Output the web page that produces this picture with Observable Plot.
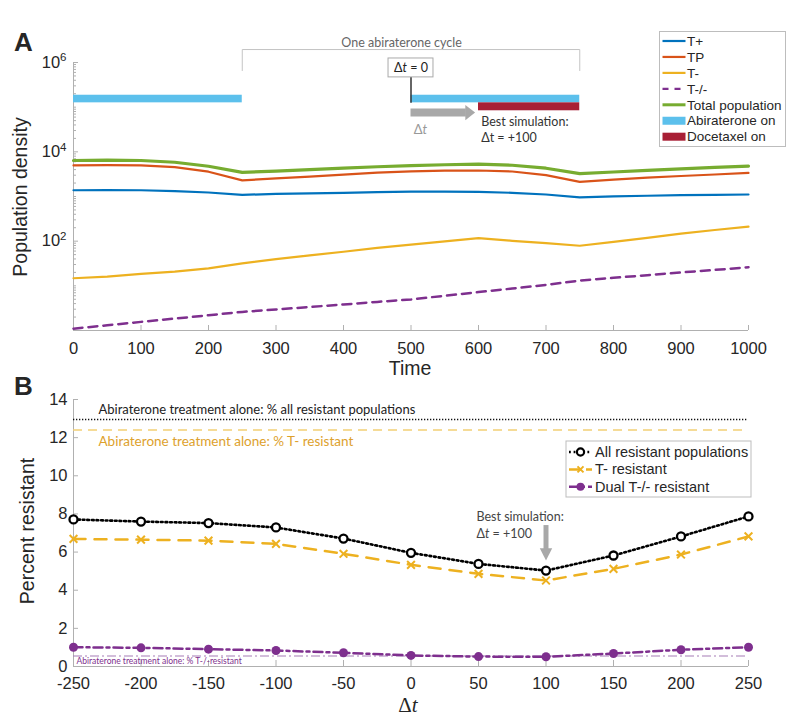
<!DOCTYPE html>
<html>
<head>
<meta charset="utf-8">
<script src="https://cdn.jsdelivr.net/npm/d3@7"></script>
<script src="https://cdn.jsdelivr.net/npm/@observablehq/plot@0.6"></script>
<style>
  body { margin: 0; background: #fff; }
  #wrap { position: relative; width: 800px; height: 723px; overflow: hidden; background: #fff; }
  #wrap > svg { position: absolute; left: 0; }
  #overlay { top: 0; pointer-events: none; }
</style>
</head>
<body>
<div id="wrap"></div>
<script>
// ---------------- Panel A data ----------------
const time = [0, 50, 100, 150, 200, 250, 300, 350, 400, 450, 500, 550, 600, 650, 700, 750, 800, 850, 900, 950, 1000];
const tPlus = [1380, 1390, 1380, 1320, 1230, 1090, 1140, 1180, 1210, 1250, 1280, 1290, 1270, 1210, 1110, 960, 1010, 1040, 1070, 1090, 1110];
const tP = [4970, 5060, 4970, 4530, 3590, 2300, 2540, 2800, 3100, 3430, 3650, 3780, 3820, 3630, 3010, 2120, 2390, 2640, 2880, 3110, 3370];
const tMinus = [14.8, 16.1, 18.5, 20.8, 24.7, 31.9, 39.5, 48, 58, 71, 84, 99, 117, 102, 90, 79, 96, 118, 148, 178, 212];
const tDual = [1.1, 1.31, 1.56, 1.85, 2.19, 2.61, 2.96, 3.36, 3.82, 4.37, 4.96, 6.0, 7.24, 8.7, 10.5, 13.1, 15.1, 17.3, 19.9, 22.7, 26.1];
const totalPop = [6400, 6550, 6400, 5850, 4760, 3470, 3690, 3980, 4300, 4640, 4890, 5140, 5330, 5010, 4300, 3250, 3540, 3840, 4150, 4480, 4810];
const abirateroneOn = [[0, 250], [500, 750]];
const docetaxelOn = [[600, 750]];
const xTicksA = [0, 100, 200, 300, 400, 500, 600, 700, 800, 900, 1000];
const yTicksA = [1e2, 1e4, 1e6];
const yTickLabelsA = ["10^2", "10^4", "10^6"];
const legendA = ["T+", "TP", "T-", "T-/-", "Total population", "Abiraterone on", "Docetaxel on"];

// ---------------- Panel B data ----------------
const deltaT = [-250, -200, -150, -100, -50, 0, 50, 100, 150, 200, 250];
const allResistant = [7.71, 7.6, 7.52, 7.29, 6.71, 5.96, 5.38, 5.03, 5.82, 6.82, 7.87];
const tMinusResistant = [6.69, 6.65, 6.6, 6.43, 5.91, 5.33, 4.86, 4.51, 5.12, 5.87, 6.82];
const dualResistant = [1.01, 0.98, 0.91, 0.84, 0.72, 0.58, 0.52, 0.51, 0.68, 0.88, 1.01];
const aloneLevels = [12.95, 12.4, 0.55];
const aloneLabels = ["Abiraterone treatment alone: % all resistant populations", "Abiraterone treatment alone: % T- resistant", "Abiraterone treatment alone: % T-/-resistant"];
const yTicksB = [0, 2, 4, 6, 8, 10, 12, 14];
const legendB = ["All resistant populations", "T- resistant", "Dual T-/- resistant"];

// ---------------- styles ----------------
const C = {blue: "#0072BD", orange: "#D95319", yellow: "#EDB120", purple: "#7E2F8E", green: "#77AC30",
           cyan: "#5CC0EC", red: "#A81F35", axis: "#b0b0b0", text: "#262626", arrow: "#a8a8a8"};
const SANS = "Liberation Sans, Arial, Helvetica, sans-serif";
const CAL = "Lato, 'Open Sans', sans-serif";

const rows = (xs, vs) => xs.map((x, i) => ({x, v: vs[i]}));

function italicT(svg, strings) {
  d3.select(svg).selectAll("text").each(function () {
    const s = this.textContent;
    if (strings.includes(s)) {
      const rest = s.slice(2);
      const sel = d3.select(this);
      sel.text(null);
      sel.append("tspan").text("Δ");
      sel.append("tspan").attr("font-style", "italic").text("t");
      if (rest) sel.append("tspan").text(rest);
    }
  });
}

// ---------------- Panel A ----------------
const plotA = Plot.plot({
  width: 800, height: 360,
  marginLeft: 73, marginRight: 52, marginTop: 62, marginBottom: 30,
  x: {domain: [0, 1000]},
  y: {type: "log", domain: [1, 1e6]},
  style: {fontFamily: SANS, fontSize: "16.5px", color: C.text, background: "transparent", overflow: "visible"},
  marks: [
    Plot.ruleY([1], {stroke: C.axis}),
    Plot.ruleX([0], {stroke: C.axis}),
    Plot.axisX({ticks: xTicksA, tickSize: -5, tickPadding: 17, stroke: C.axis, fill: C.text, label: null, tickFormat: d => String(d)}),
    Plot.axisY({ticks: [1, ...yTicksA], tickSize: -5, tickPadding: 12, stroke: C.axis, fill: C.text, label: null,
                tickFormat: d => { const i = yTicksA.indexOf(d); return i < 0 ? "" : yTickLabelsA[i]; }}),
    Plot.axisY({ticks: d3.range(0, 6).flatMap(k => d3.range(2, 11).map(m => m * 10 ** k)).filter(v => !yTicksA.includes(v) && v <= 1e6),
                tickSize: -3, stroke: C.axis, label: null, tickFormat: () => ""}),
    // treatment bars
    Plot.rect(abirateroneOn, {x1: d => d[0], x2: d => d[1], y1: 1.25e5, y2: 1.85e5, fill: C.cyan}),
    Plot.rect(docetaxelOn, {x1: d => d[0], x2: d => d[1], y1: 8.3e4, y2: 1.25e5, fill: C.red}),
    // bracket: one abiraterone cycle
    Plot.line([[250, 6.6e5], [250, 1.95e6], [750, 1.95e6], [750, 6.6e5]], {x: d => d[0], y: d => d[1], stroke: "#c4c4c4", strokeWidth: 1}),
    Plot.text(["One abiraterone cycle"], {x: 486, y: 2.69e6, text: d => d, fontFamily: CAL, fontSize: 12.5, fill: "#666"}),
    // Δt = 0 box and marker line
    Plot.ruleX([500], {y1: 1.23e5, y2: 4.64e5, stroke: "#333", strokeWidth: 1.5}),
    Plot.rect([0], {x1: 466.7, x2: 533.3, y1: 4.64e5, y2: 1.23e6, fill: "white", stroke: "#aaa"}),
    Plot.text(["Δt = 0"], {x: 500, y: 7.55e5, text: d => d, fontFamily: CAL, fontSize: 12.5, fill: "#222"}),
    // gray Δt arrow
    Plot.ruleY([7.55e4], {x1: 500, x2: 582, stroke: C.arrow, strokeWidth: 8}),
    Plot.line([[580.5, 1.12e5], [595, 7.55e4], [580.5, 5.1e4]], {x: d => d[0], y: d => d[1], fill: C.arrow, stroke: "none"}),
    Plot.text(["Δt"], {x: 514, y: 3.08e4, text: d => d, fontFamily: CAL, fontSize: 13, fill: "#999"}),
    Plot.text(["Best simulation:", "Δt = +100"], {x: 604, y: (d, i) => [4.76e4, 2.0e4][i], text: d => d, textAnchor: "start", fontFamily: CAL, fontSize: 12.5, fill: "#333"}),
    // population lines
    Plot.line(rows(time, tDual), {x: "x", y: "v", stroke: C.purple, strokeWidth: 2.5, strokeDasharray: "9,6"}),
    Plot.line(rows(time, tMinus), {x: "x", y: "v", stroke: C.yellow, strokeWidth: 2.2}),
    Plot.line(rows(time, tPlus), {x: "x", y: "v", stroke: C.blue, strokeWidth: 2.2}),
    Plot.line(rows(time, tP), {x: "x", y: "v", stroke: C.orange, strokeWidth: 2.2}),
    Plot.line(rows(time, totalPop), {x: "x", y: "v", stroke: C.green, strokeWidth: 3.2})
  ]
});
italicT(plotA, ["Δt = 0", "Δt"]);
// superscript exponents on log tick labels
d3.select(plotA).selectAll("text").each(function () {
  const m = /^10\^(\d)$/.exec(this.textContent);
  if (m) {
    const sel = d3.select(this);
    sel.text(null);
    sel.append("tspan").text("10");
    sel.append("tspan").attr("dy", "-0.55em").attr("font-size", "11.5px").text(m[1]);
  }
});

// ---------------- Panel B ----------------
const plotB = Plot.plot({
  width: 800, height: 320,
  marginLeft: 73, marginRight: 52, marginTop: 19, marginBottom: 34,
  x: {domain: [-250, 250]},
  y: {domain: [0, 14]},
  style: {fontFamily: SANS, fontSize: "16.5px", color: C.text, background: "transparent", overflow: "visible"},
  marks: [
    Plot.ruleY([0], {stroke: C.axis}),
    Plot.ruleX([-250], {stroke: C.axis}),
    Plot.axisX({ticks: deltaT, tickSize: -6, tickPadding: 17, stroke: C.axis, fill: C.text, label: null, tickFormat: d => String(d)}),
    Plot.axisY({ticks: yTicksB, tickSize: -5, tickPadding: 11, stroke: C.axis, fill: C.text, label: null, tickFormat: d => String(d)}),
    // abiraterone-alone reference lines
    Plot.ruleY([aloneLevels[0]], {stroke: "#111", strokeWidth: 1.6, strokeDasharray: "1.3,1.7"}),
    Plot.ruleY([aloneLevels[1]], {stroke: "#F2CF75", strokeWidth: 1.6, strokeDasharray: "9,6"}),
    Plot.ruleY([aloneLevels[2]], {stroke: "#A67DB5", strokeWidth: 1.1, strokeDasharray: "9,3,2,3"}),
    Plot.text([aloneLabels[0]], {x: -231.5, y: 13.48, text: d => d, textAnchor: "start", fontFamily: CAL, fontSize: 13, fill: "#222"}),
    Plot.text([aloneLabels[1]], {x: -231.5, y: 11.81, text: d => d, textAnchor: "start", fontFamily: CAL, fontSize: 13.5, fill: "#DDA12C"}),
    Plot.text([aloneLabels[2]], {x: -247.8, y: 0.3, text: d => d, textAnchor: "start", fontFamily: CAL, fontSize: 8.5, fill: C.purple}),
    // best simulation annotation
    Plot.text(["Best simulation:", "Δt = +100"], {x: 48.5, y: (d, i) => [7.83, 6.97][i], text: d => d, textAnchor: "start", fontFamily: CAL, fontSize: 12.5, fill: "#444"}),
    Plot.ruleX([100], {y1: 6.1, y2: 7.39, stroke: C.arrow, strokeWidth: 5}),
    Plot.line([[95.4, 6.2], [100, 5.56], [104.6, 6.2]], {x: d => d[0], y: d => d[1], fill: C.arrow, stroke: "none"}),
    // series
    Plot.line(rows(deltaT, dualResistant), {x: "x", y: "v", stroke: C.purple, strokeWidth: 2.5, strokeDasharray: "9,4,3,4"}),
    Plot.dot(rows(deltaT, dualResistant), {x: "x", y: "v", fill: C.purple, r: 4.5}),
    Plot.line(rows(deltaT, tMinusResistant), {x: "x", y: "v", stroke: C.yellow, strokeWidth: 2.5, strokeDasharray: "12,9"}),
    Plot.dot(rows(deltaT, tMinusResistant), {x: "x", y: "v", symbol: "times", stroke: C.yellow, strokeWidth: 2, r: 3.6}),
    Plot.line(rows(deltaT, allResistant), {x: "x", y: "v", stroke: "#000", strokeWidth: 2.6, strokeDasharray: "1.8,2.8"}),
    Plot.dot(rows(deltaT, allResistant), {x: "x", y: "v", stroke: "#000", fill: "white", strokeWidth: 2.3, r: 4})
  ]
});
italicT(plotB, ["Δt = +100"]);

const wrap = document.getElementById("wrap");
plotA.style.top = "0px";
plotB.style.top = "380px";
wrap.appendChild(plotA);
wrap.appendChild(plotB);

// ---------------- overlay: panel letters, axis titles, legends ----------------
const ov = d3.select(wrap).append("svg").attr("id", "overlay").attr("width", 800).attr("height", 723)
  .style("font-family", SANS).style("fill", C.text);

ov.append("text").attr("x", 14).attr("y", 51).attr("font-size", 26).attr("font-weight", "bold").text("A");
ov.append("text").attr("x", 14).attr("y", 395).attr("font-size", 26).attr("font-weight", "bold").text("B");

ov.append("text").attr("transform", "translate(27,197) rotate(-90)").attr("text-anchor", "middle").attr("font-size", 19.5).text("Population density");
ov.append("text").attr("x", 410).attr("y", 375).attr("text-anchor", "middle").attr("font-size", 19.5).text("Time");
ov.append("text").attr("transform", "translate(34,531) rotate(-90)").attr("text-anchor", "middle").attr("font-size", 19.5).text("Percent resistant");
const dtLab = ov.append("text").attr("x", 408).attr("y", 712).attr("text-anchor", "middle").attr("font-size", 21)
  .style("font-family", "'Liberation Serif', 'DejaVu Serif', serif");
dtLab.append("tspan").text("Δ");
dtLab.append("tspan").attr("font-style", "italic").text("t");

// legend A
const lgA = ov.append("g").attr("transform", "translate(659.5,31.5)");
lgA.append("rect").attr("width", 126).attr("height", 115).attr("fill", "white").attr("stroke", "#bdbdbd");
const swA = [
  {stroke: C.blue, w: 2.2}, {stroke: C.orange, w: 2.2}, {stroke: C.yellow, w: 2.2},
  {stroke: C.purple, w: 2.2, dash: "6,6"}, {stroke: C.green, w: 3},
  {rect: C.cyan}, {rect: C.red}
];
legendA.forEach((name, i) => {
  const y = 9.5 + i * 15.95;
  const s = swA[i];
  if (s.rect) lgA.append("rect").attr("x", 3).attr("y", y - 4).attr("width", 23).attr("height", 8).attr("fill", s.rect);
  else lgA.append("line").attr("x1", 3).attr("x2", 26).attr("y1", y).attr("y2", y).attr("stroke", s.stroke)
    .attr("stroke-width", s.w).attr("stroke-dasharray", s.dash || null);
  lgA.append("text").attr("x", 27.5).attr("y", y).attr("dy", "0.35em").attr("font-size", 13.5).text(name);
});

// legend B
const lgB = ov.append("g").attr("transform", "translate(566,441)");
lgB.append("rect").attr("width", 185).attr("height", 56).attr("fill", "white").attr("stroke", "#bdbdbd");
legendB.forEach((name, i) => {
  const y = 11 + i * 17.4;
  if (i === 0) {
    lgB.append("line").attr("x1", 3).attr("x2", 26).attr("y1", y).attr("y2", y).attr("stroke", "#000").attr("stroke-width", 2.6).attr("stroke-dasharray", "1.8,2.8");
    lgB.append("circle").attr("cx", 14.5).attr("cy", y).attr("r", 3.6).attr("fill", "white").attr("stroke", "#000").attr("stroke-width", 2.2);
  } else if (i === 1) {
    lgB.append("line").attr("x1", 3).attr("x2", 26).attr("y1", y).attr("y2", y).attr("stroke", C.yellow).attr("stroke-width", 2.5).attr("stroke-dasharray", "12,5");
    lgB.append("path").attr("d", `M${14.5 - 3},${y - 3}L${14.5 + 3},${y + 3}M${14.5 - 3},${y + 3}L${14.5 + 3},${y - 3}`).attr("stroke", C.yellow).attr("stroke-width", 2);
  } else {
    lgB.append("line").attr("x1", 3).attr("x2", 26).attr("y1", y).attr("y2", y).attr("stroke", C.purple).attr("stroke-width", 2.5).attr("stroke-dasharray", "10,3,3,3");
    lgB.append("circle").attr("cx", 14.5).attr("cy", y).attr("r", 4).attr("fill", C.purple);
  }
  lgB.append("text").attr("x", 29).attr("y", y).attr("dy", "0.35em").attr("font-size", 14.5).text(name);
});
</script>
</body>
</html>
